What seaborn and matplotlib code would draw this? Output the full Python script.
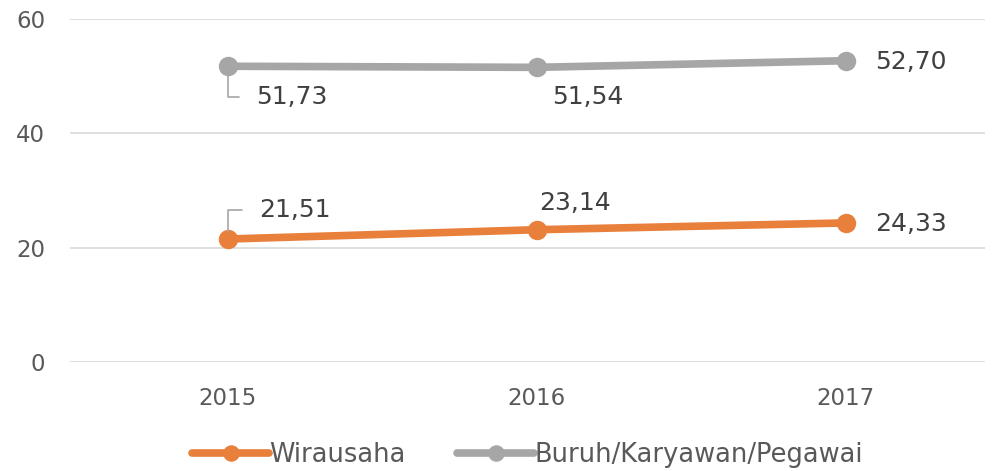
import matplotlib
matplotlib.use("Agg")
import matplotlib.pyplot as plt
import seaborn as sns
import pandas as pd

years = ["2015", "2016", "2017"]
wirausaha = [21.51, 23.14, 24.33]
buruh = [51.73, 51.54, 52.70]
series_names = ["Wirausaha", "Buruh/Karyawan/Pegawai"]
colors = ["#E8803C", "#A6A6A6"]

# offsets (pixels) for value labels, and whether a leader line is drawn
label_offsets = {
    "Wirausaha": [(31, 29, True), (2, 27, False), (29, -1, False)],
    "Buruh/Karyawan/Pegawai": [(28, -31, True), (15, -30, False), (29, -1, False)],
}

df = pd.DataFrame({
    "year": years * 2,
    "value": wirausaha + buruh,
    "series": [series_names[0]] * 3 + [series_names[1]] * 3,
})

sns.set_style("white")
plt.rcParams["font.family"] = ["DejaVu Sans"]

fig = plt.figure(figsize=(9.95, 4.71), dpi=100)
ax = fig.add_axes([0.0704, 0.2314, 0.9196, 0.7283])

sns.lineplot(
    data=df, x="year", y="value", hue="series", palette=colors,
    marker="o", markersize=14, linewidth=5.5, markeredgewidth=0,
    ax=ax, sort=False,
)

ax.set_ylim(0, 60)
ax.set_yticks([0, 20, 40, 60])
ax.set_xlim(-0.51, 2.45)
ax.yaxis.grid(True, color="#D9D9D9", linewidth=1.2)
ax.set_axisbelow(True)
for side in ["top", "right", "left", "bottom"]:
    ax.spines[side].set_visible(False)
ax.set_xlabel("")
ax.set_ylabel("")
ax.tick_params(axis="both", length=0, labelsize=16.5, labelcolor="#595959")
ax.tick_params(axis="x", pad=18)
ax.tick_params(axis="y", pad=18)

for name, vals in zip(series_names, [wirausaha, buruh]):
    for i, (v, (dx, dy, leader)) in enumerate(zip(vals, label_offsets[name])):
        txt = f"{v:.2f}".replace(".", ",")
        kw = {}
        if leader:
            kw["arrowprops"] = dict(
                arrowstyle="-", color="#A6A6A6", lw=1.2,
                connectionstyle="angle,angleA=0,angleB=90,rad=0",
                relpos=(0, 0.5), shrinkA=10, shrinkB=5,
            )
        ax.annotate(
            txt, xy=(i, v), xytext=(dx, dy), textcoords="offset pixels",
            ha="left", va="center", fontsize=18, color="#404040", **kw,
        )

leg = ax.legend(
    loc="center", bbox_to_anchor=(0.5, -0.271), ncol=2, frameon=False,
    fontsize=18.5, handlelength=3.0, handletextpad=0.0, columnspacing=2.0,
    labelcolor="#595959", markerscale=0.85,
)

fig.savefig("out.png", dpi=100)
